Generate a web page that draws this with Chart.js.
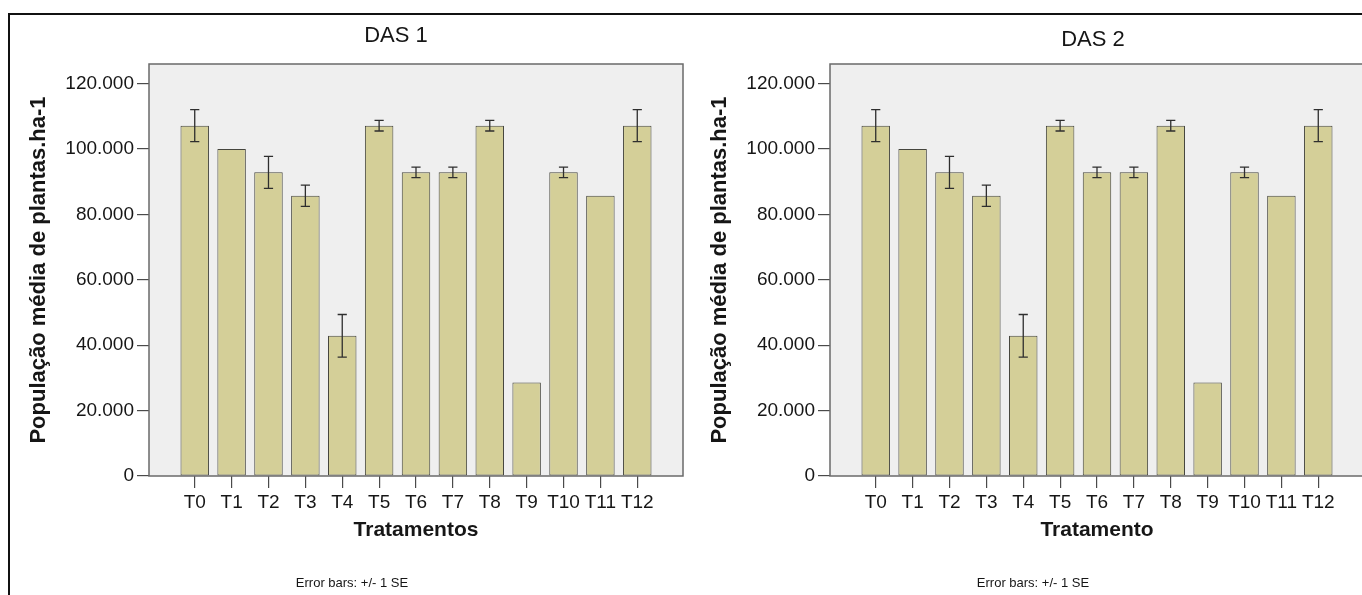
<!DOCTYPE html>
<html>
<head>
<meta charset="utf-8">
<script src="https://cdn.jsdelivr.net/npm/chart.js@4/dist/chart.umd.min.js"></script>
<style>
  html, body { margin: 0; padding: 0; background: #ffffff; }
  body { width: 1362px; height: 595px; overflow: hidden; position: relative; }
  .rule-top { position: absolute; left: 8px; top: 13px; width: 1354px; height: 2px; background: #111; }
  .rule-left { position: absolute; left: 8px; top: 13px; width: 2px; height: 582px; background: #111; }
  .panel { position: absolute; top: 15px; width: 680px; height: 580px; }
  #panel1 { left: 10px; }
  #panel2 { left: 691px; }
</style>
</head>
<body>
<div class="rule-top"></div>
<div class="rule-left"></div>
<div class="panel" id="panel1"><canvas id="chartDas1"></canvas></div>
<div class="panel" id="panel2"><canvas id="chartDas2"></canvas></div>

<script>
// Treatments on the x axis
const categories = ['T0', 'T1', 'T2', 'T3', 'T4', 'T5', 'T6', 'T7', 'T8', 'T9', 'T10', 'T11', 'T12'];

// Mean plant population per hectare and its standard error, DAS 1
const das1Mean = [107143, 100000, 92857, 85714, 42857, 107143, 92857, 92857, 107143, 28571, 92857, 85714, 107143];
const das1SE   = [4900, 0, 4900, 3270, 6530, 1630, 1630, 1630, 1630, 0, 1630, 0, 4900];

// Mean plant population per hectare and its standard error, DAS 2
const das2Mean = [107143, 100000, 92857, 85714, 42857, 107143, 92857, 92857, 107143, 28571, 92857, 85714, 107143];
const das2SE   = [4900, 0, 4900, 3270, 6530, 1630, 1630, 1630, 1630, 0, 1630, 0, 4900];

// Value axis ticks
const yTicks = [0, 20000, 40000, 60000, 80000, 100000, 120000];

const FONT = "'Liberation Sans', Arial, sans-serif";
const TEXT = '#161616';

// empty space on each side of the first and last treatment, in category widths
const EDGE = 1.24;

// thousands separated with a dot: 120000 -> "120.000"
function fmtThousands(v) {
  return String(Math.round(v)).replace(/\B(?=(\d{3})+(?!\d))/g, '.');
}

// light grey plot background and its frame
const plotFrame = {
  id: 'plotFrame',
  beforeDatasetsDraw(chart) {
    const { ctx, chartArea: a } = chart;
    ctx.save();
    ctx.fillStyle = '#efefef';
    ctx.fillRect(a.left, a.top, a.right - a.left, a.bottom - a.top);
    ctx.restore();
  },
  afterDatasetsDraw(chart) {
    const { ctx, chartArea: a } = chart;
    ctx.save();
    ctx.strokeStyle = '#6a6a6a';
    ctx.lineWidth = 1.5;
    ctx.strokeRect(a.left, a.top, a.right - a.left, a.bottom - a.top);
    ctx.restore();
  }
};

// +/- 1 SE whiskers on every bar
const errorBars = {
  id: 'errorBars',
  afterDatasetsDraw(chart, args, opts) {
    const { ctx } = chart;
    const yScale = chart.scales.y;
    chart.data.datasets.forEach((ds, di) => {
      const meta = chart.getDatasetMeta(di);
      const se = ds.errors || [];
      meta.data.forEach((bar, i) => {
        const e = se[i];
        if (!e) return;
        const v = ds.data[i].y;
        const yHi = yScale.getPixelForValue(v + e);
        const yLo = yScale.getPixelForValue(v - e);
        const x = bar.x;
        const cap = opts.capHalfWidth;
        ctx.save();
        ctx.strokeStyle = opts.color;
        ctx.lineWidth = opts.lineWidth;
        ctx.beginPath();
        ctx.moveTo(x, yHi); ctx.lineTo(x, yLo);
        ctx.moveTo(x - cap, yHi); ctx.lineTo(x + cap, yHi);
        ctx.moveTo(x - cap, yLo); ctx.lineTo(x + cap, yLo);
        ctx.stroke();
        ctx.restore();
      });
    });
  }
};

// panel heading and footnote
const panelText = {
  id: 'panelText',
  afterDraw(chart, args, opts) {
    const { ctx } = chart;
    ctx.save();
    ctx.fillStyle = TEXT;
    ctx.textAlign = 'center';
    ctx.textBaseline = 'middle';
    ctx.font = `${opts.titleSize}px ${FONT}`;
    ctx.fillText(opts.title, opts.titleX, opts.titleY);
    ctx.font = `${opts.noteSize}px ${FONT}`;
    ctx.fillText(opts.note, opts.noteX, opts.noteY);
    ctx.restore();
  }
};

function buildChart(canvasId, title, titleX, titleY, xTitle, means, errors) {
  const points = means.map((v, i) => ({ x: i, y: v }));
  return new Chart(document.getElementById(canvasId), {
    type: 'bar',
    data: {
      datasets: [{
        data: points,
        errors: errors,
        backgroundColor: '#d4cf98',
        borderColor: '#45453d',
        borderWidth: 1,
        borderSkipped: false,
        barPercentage: 0.772,
        categoryPercentage: 1
      }]
    },
    options: {
      responsive: true,
      maintainAspectRatio: false,
      animation: false,
      events: [],
      layout: { padding: { top: 49, left: 0, right: 7, bottom: 52 } },
      plugins: {
        legend: { display: false },
        tooltip: { enabled: false },
        title: { display: false },
        errorBars: { color: '#2e2e2e', lineWidth: 1.3, capHalfWidth: 4.6 },
        panelText: {
          title: title, titleX: titleX, titleY: titleY, titleSize: 22,
          note: 'Error bars: +/- 1 SE', noteX: 342, noteY: 568, noteSize: 13
        }
      },
      scales: {
        x: {
          type: 'linear',
          min: -EDGE,
          max: categories.length - 1 + EDGE,
          offset: false,
          afterBuildTicks: s => { s.ticks = categories.map((c, i) => ({ value: i })); },
          afterFit: s => { s.height = 67; },
          ticks: {
            autoSkip: false,
            maxRotation: 0,
            padding: 3,
            color: TEXT,
            font: { family: FONT, size: 19 },
            callback: v => categories[v]
          },
          grid: { offset: false, drawOnChartArea: false, drawTicks: true, tickLength: 12, color: '#4a4a4a', lineWidth: 1.2 },
          border: { display: false },
          title: {
            display: true,
            text: xTitle,
            color: TEXT,
            font: { family: FONT, size: 21, weight: 'bold' },
            padding: { top: 0, bottom: 0 }
          }
        },
        y: {
          min: 0,
          max: 126000,
          afterBuildTicks: s => { s.ticks = yTicks.map(v => ({ value: v })); },
          afterFit: s => { s.width = 139; },
          ticks: {
            padding: 3,
            color: TEXT,
            font: { family: FONT, size: 19 },
            callback: v => fmtThousands(v)
          },
          grid: { drawOnChartArea: false, drawTicks: true, tickLength: 12, color: '#4a4a4a', lineWidth: 1.2 },
          border: { display: false },
          title: {
            display: true,
            text: 'População média de plantas.ha-1',
            color: TEXT,
            font: { family: FONT, size: 22, weight: 'bold' },
            padding: { top: 16, bottom: 0 }
          }
        }
      }
    },
    plugins: [plotFrame, errorBars, panelText]
  });
}

buildChart('chartDas1', 'DAS 1', 386, 21, 'Tratamentos', das1Mean, das1SE);
buildChart('chartDas2', 'DAS 2', 402, 25, 'Tratamento', das2Mean, das2SE);
</script>
</body>
</html>
